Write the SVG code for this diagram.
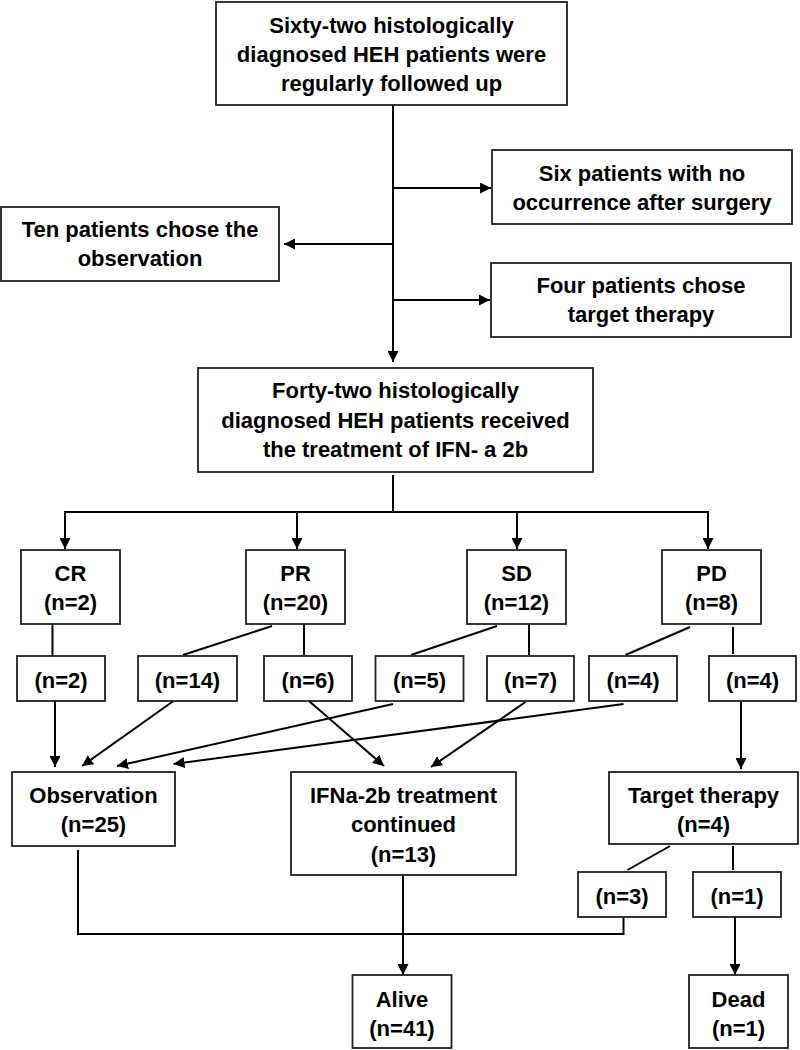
<svg xmlns="http://www.w3.org/2000/svg" width="800" height="1050" viewBox="0 0 800 1050">
<style>
.box{fill:#fff;stroke:#222;stroke-width:1.8}
.t{font-family:"Liberation Sans",Arial,sans-serif;font-weight:bold;font-size:22px;fill:#000;text-anchor:middle}
.c{fill:none;stroke:#000;stroke-width:2}
</style>
<defs>
<marker id="ah" markerUnits="userSpaceOnUse" markerWidth="11" markerHeight="11" refX="11" refY="5.5" orient="auto">
<path d="M0,0 L11,5.5 L0,11 z" fill="#000"/>
</marker>
</defs>
<rect width="800" height="1050" fill="#fff"/>
<g id="connectors">
<line class="c" x1="393" y1="105" x2="393" y2="362" marker-end="url(#ah)"/>
<line class="c" x1="394" y1="188" x2="491" y2="188" marker-end="url(#ah)"/>
<line class="c" x1="393" y1="244" x2="284" y2="244" marker-end="url(#ah)"/>
<line class="c" x1="394" y1="300" x2="490" y2="300" marker-end="url(#ah)"/>
<line class="c" x1="393" y1="475" x2="393" y2="512"/>
<line class="c" x1="65" y1="512" x2="708" y2="512"/>
<line class="c" x1="65" y1="511" x2="65" y2="549" marker-end="url(#ah)"/>
<line class="c" x1="297" y1="511" x2="297" y2="549" marker-end="url(#ah)"/>
<line class="c" x1="517" y1="511" x2="517" y2="549" marker-end="url(#ah)"/>
<line class="c" x1="708" y1="511" x2="708" y2="549" marker-end="url(#ah)"/>
<line class="c" x1="52.5" y1="624" x2="52.5" y2="656"/>
<line class="c" x1="272" y1="626" x2="183" y2="655"/>
<line class="c" x1="304" y1="624" x2="304" y2="655"/>
<line class="c" x1="497" y1="626" x2="411" y2="655"/>
<line class="c" x1="529" y1="624" x2="529" y2="655"/>
<line class="c" x1="690" y1="627" x2="625.5" y2="655"/>
<line class="c" x1="733" y1="627" x2="733" y2="654"/>
<line class="c" x1="55" y1="701" x2="55" y2="767" marker-end="url(#ah)"/>
<line class="c" x1="173.5" y1="701" x2="82" y2="766" marker-end="url(#ah)"/>
<line class="c" x1="393" y1="704" x2="117" y2="766" marker-end="url(#ah)"/>
<line class="c" x1="623.5" y1="704" x2="173.5" y2="764" marker-end="url(#ah)"/>
<line class="c" x1="309" y1="701" x2="384" y2="766" marker-end="url(#ah)"/>
<line class="c" x1="525.5" y1="702" x2="431" y2="767" marker-end="url(#ah)"/>
<line class="c" x1="741" y1="701" x2="741" y2="769" marker-end="url(#ah)"/>
<line class="c" x1="670" y1="846" x2="627.5" y2="870"/>
<line class="c" x1="733" y1="846" x2="733" y2="870"/>
<polyline class="c" points="78,850 78,934 623.5,934 623.5,917"/>
<line class="c" x1="403" y1="875" x2="403" y2="975" marker-end="url(#ah)"/>
<line class="c" x1="735" y1="917" x2="735" y2="975" marker-end="url(#ah)"/>
</g>
<g id="n_top"><rect class="box" x="216" y="2" width="351" height="103"/>
<text class="t" x="391.5" y="32.5">Sixty-two histologically</text>
<text class="t" x="391.5" y="61.5">diagnosed HEH patients were</text>
<text class="t" x="391.5" y="90.5">regularly followed up</text></g>
<g id="n_six"><rect class="box" x="492" y="150" width="300" height="74"/>
<text class="t" x="642" y="181">Six patients with no</text>
<text class="t" x="642" y="210">occurrence after surgery</text></g>
<g id="n_ten"><rect class="box" x="1" y="207" width="278" height="74"/>
<text class="t" x="140" y="237">Ten patients chose the</text>
<text class="t" x="140" y="266">observation</text></g>
<g id="n_four"><rect class="box" x="491" y="263" width="300" height="74"/>
<text class="t" x="641" y="293">Four patients chose</text>
<text class="t" x="641" y="322">target therapy</text></g>
<g id="n_forty"><rect class="box" x="198" y="368" width="395" height="104"/>
<text class="t" x="395.5" y="398">Forty-two histologically</text>
<text class="t" x="395.5" y="428">diagnosed HEH patients received</text>
<text class="t" x="395.5" y="457">the treatment of IFN- a 2b</text></g>
<g id="n_cr"><rect class="box" x="21" y="550" width="99" height="74"/>
<text class="t" x="70.5" y="581">CR</text><text class="t" x="70.5" y="610">(n=2)</text></g>
<g id="n_pr"><rect class="box" x="246" y="550" width="99" height="74"/>
<text class="t" x="295.5" y="581">PR</text><text class="t" x="295.5" y="610">(n=20)</text></g>
<g id="n_sd"><rect class="box" x="467" y="550" width="99" height="74"/>
<text class="t" x="516.5" y="581">SD</text><text class="t" x="516.5" y="610">(n=12)</text></g>
<g id="n_pd"><rect class="box" x="662" y="550" width="99" height="74"/>
<text class="t" x="711.5" y="581">PD</text><text class="t" x="711.5" y="610">(n=8)</text></g>
<g id="n_cr2"><rect class="box" x="17" y="656" width="88" height="45"/><text class="t" x="61" y="688">(n=2)</text></g>
<g id="n_pr14"><rect class="box" x="138" y="656" width="99" height="45"/><text class="t" x="187.5" y="688">(n=14)</text></g>
<g id="n_pr6"><rect class="box" x="264" y="656" width="88" height="45"/><text class="t" x="308" y="688">(n=6)</text></g>
<g id="n_sd5"><rect class="box" x="375.5" y="656" width="88" height="45"/><text class="t" x="419.5" y="688">(n=5)</text></g>
<g id="n_sd7"><rect class="box" x="487" y="656" width="87" height="45"/><text class="t" x="530.5" y="688">(n=7)</text></g>
<g id="n_pd4a"><rect class="box" x="589" y="656" width="88" height="45"/><text class="t" x="633" y="688">(n=4)</text></g>
<g id="n_pd4b"><rect class="box" x="709" y="656" width="87" height="45"/><text class="t" x="752.5" y="688">(n=4)</text></g>
<g id="n_obs"><rect class="box" x="12" y="772" width="163" height="74"/>
<text class="t" x="93.5" y="803">Observation</text><text class="t" x="93.5" y="832">(n=25)</text></g>
<g id="n_ifn"><rect class="box" x="291" y="772" width="225" height="103"/>
<text class="t" x="403.5" y="803">IFNa-2b treatment</text><text class="t" x="403.5" y="832">continued</text><text class="t" x="403.5" y="862">(n=13)</text></g>
<g id="n_target"><rect class="box" x="609" y="772" width="189" height="72"/>
<text class="t" x="703.5" y="803">Target therapy</text><text class="t" x="703.5" y="832">(n=4)</text></g>
<g id="n_t3"><rect class="box" x="578" y="872" width="88" height="45"/><text class="t" x="622" y="904">(n=3)</text></g>
<g id="n_t1"><rect class="box" x="693" y="872" width="88" height="45"/><text class="t" x="737" y="904">(n=1)</text></g>
<g id="n_alive"><rect class="box" x="352.5" y="975" width="99" height="73"/>
<text class="t" x="402" y="1007">Alive</text><text class="t" x="402" y="1036">(n=41)</text></g>
<g id="n_dead"><rect class="box" x="689" y="975" width="99" height="73"/>
<text class="t" x="738.5" y="1007">Dead</text><text class="t" x="738.5" y="1036">(n=1)</text></g>
</svg>
